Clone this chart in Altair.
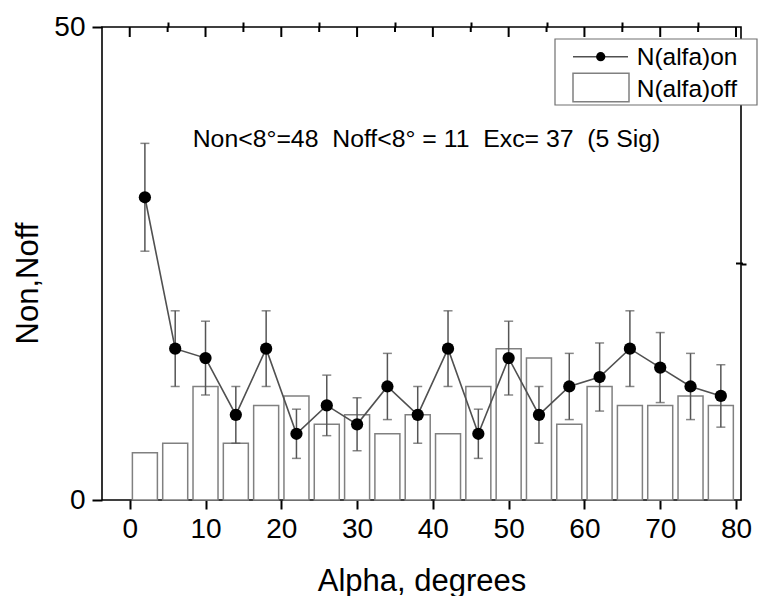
import altair as alt
import pandas as pd

# ---- data ----
alpha = [2, 6, 10, 14, 18, 22, 26, 30, 34, 38, 42, 46, 50, 54, 58, 62, 66, 70, 74, 78]
n_on = [32, 16, 15, 9, 16, 7, 10, 8, 12, 9, 16, 7, 15, 9, 12, 13, 16, 14, 12, 11]
n_on_err = [5.7, 4.0, 3.9, 3.0, 4.0, 2.6, 3.2, 2.8, 3.5, 3.0, 4.0, 2.6, 3.9, 3.0, 3.5, 3.6, 4.0, 3.7, 3.5, 3.3]
n_off = [5, 6, 12, 6, 10, 11, 8, 9, 7, 9, 7, 12, 16, 15, 8, 12, 10, 10, 11, 10]

x_major = [0, 10, 20, 30, 40, 50, 60, 70, 80]
x_minor = [5, 15, 25, 35, 45, 55, 65, 75]
y_major = [0, 50]
y_minor = [25]

annotation = "Non<8°=48\u00a0\u00a0Noff<8° = 11\u00a0\u00a0Exc= 37\u00a0\u00a0(5 Sig)"
legend_on = "N(alfa)on"
legend_off = "N(alfa)off"
x_title = "Alpha, degrees"
y_title = "Non,Noff"

df = pd.DataFrame({"alpha": alpha, "on": n_on, "err": n_on_err, "off": n_off})
df["lo"] = df["on"] - df["err"]
df["hi"] = df["on"] + df["err"]
one = pd.DataFrame({"a": [0]})
y_top = y_major[-1]
df_xmaj = pd.DataFrame({"tx": x_major, "ty": [y_top] * len(x_major)})
df_xmin = pd.DataFrame({"tx": x_minor, "ty": [y_top] * len(x_minor)})
df_ymin = pd.DataFrame({"ty": y_minor})

W, H = 639, 473
FONT = "Liberation Sans"
xs = alt.Scale(domain=[-3, 80], nice=False, zero=False)
ys = alt.Scale(domain=[0, 50], nice=False)

axis_common = dict(domain=False, ticks=True, tickColor="black", tickWidth=2,
                   labelFont=FONT, labelColor="black", grid=False)

# main bottom / left axes
ax_main = alt.Chart(df).mark_point(opacity=0).encode(
    x=alt.X("alpha:Q", scale=xs, axis=alt.Axis(
        values=x_major, tickSize=9, labelFontSize=28, labelPadding=6,
        title=x_title, titleFont=FONT, titleFontSize=31, titleFontWeight="normal",
        titleColor="black", titleX=W / 2, titleY=90, titleBaseline="alphabetic",
        titleAlign="center", titleAnchor="middle", **axis_common)),
    y=alt.Y("on:Q", scale=ys, axis=alt.Axis(
        values=y_major, tickSize=10, labelFontSize=28, labelPadding=7,
        title=y_title, titleFont=FONT, titleFontSize=31, titleFontWeight="normal",
        titleColor="black", titleX=-65, titleY=256, titleAngle=270,
        titleBaseline="alphabetic", titleAlign="center", **axis_common)),
)
# minor bottom / left ticks
ax_minor = alt.Chart(df).mark_point(opacity=0).encode(
    x=alt.X("alpha:Q", scale=xs, axis=alt.Axis(values=x_minor, tickSize=5, labels=False,
                                                title=None, **axis_common)),
    y=alt.Y("on:Q", scale=ys, axis=alt.Axis(values=y_minor, tickSize=5, labels=False,
                                             title=None, **axis_common)),
)

X = alt.X("alpha:Q", scale=xs, axis=None)

# inward ticks on the top edge and on the right edge
top_major = alt.Chart(df_xmaj).mark_tick(orient="vertical", size=10, thickness=2,
                                         color="black", opacity=1, yOffset=5).encode(
    x=alt.X("tx:Q", scale=xs, axis=None), y=alt.Y("ty:Q", scale=ys, axis=None))
top_minor = alt.Chart(df_xmin).mark_tick(orient="vertical", size=5, thickness=2,
                                         color="black", opacity=1, yOffset=2.5).encode(
    x=alt.X("tx:Q", scale=xs, axis=None), y=alt.Y("ty:Q", scale=ys, axis=None))
right_minor = alt.Chart(df_ymin).mark_rule(color="black", strokeWidth=2).encode(
    y=alt.Y("ty:Q", scale=ys, axis=None), y2=alt.Y2("ty:Q"),
    x=alt.value(W - 5), x2=alt.value(W + 2))

bars = alt.Chart(df).mark_bar(size=25, fill="white", stroke="#808080", strokeWidth=1.5).encode(
    x=X, y=alt.Y("off:Q", scale=ys, axis=None))

err_rule = alt.Chart(df).mark_rule(color="#555555", strokeWidth=1.5).encode(
    x=X, y=alt.Y("lo:Q", scale=ys, axis=None), y2="hi:Q")
cap_lo = alt.Chart(df).mark_tick(orient="horizontal", size=9, thickness=1.5, color="#555555").encode(
    x=X, y=alt.Y("lo:Q", scale=ys, axis=None))
cap_hi = alt.Chart(df).mark_tick(orient="horizontal", size=9, thickness=1.5, color="#555555").encode(
    x=X, y=alt.Y("hi:Q", scale=ys, axis=None))

line = alt.Chart(df).mark_line(color="#505050", strokeWidth=1.6).encode(
    x=X, y=alt.Y("on:Q", scale=ys, axis=None))
points = alt.Chart(df).mark_point(filled=True, size=150, color="black", opacity=1).encode(
    x=X, y=alt.Y("on:Q", scale=ys, axis=None))

ann = alt.Chart(one).mark_text(text=annotation, font=FONT, fontSize=24.8, align="left",
                               baseline="alphabetic", color="black").encode(
    x=alt.value(90.7), y=alt.value(119.7))

# legend (drawn by hand)
leg_box = alt.Chart(one).mark_rect(fill="white", stroke="#707070", strokeWidth=1.2).encode(
    x=alt.value(453), x2=alt.value(655), y=alt.value(12), y2=alt.value(78))
leg_line = alt.Chart(one).mark_rule(color="#505050", strokeWidth=1.5).encode(
    x=alt.value(471), x2=alt.value(526), y=alt.value(29.7))
leg_dot = alt.Chart(one).mark_point(filled=True, size=85, color="black", opacity=1).encode(
    x=alt.value(498.7), y=alt.value(29.7))
leg_rect = alt.Chart(one).mark_rect(fill="white", stroke="#808080", strokeWidth=1.5).encode(
    x=alt.value(471), x2=alt.value(527), y=alt.value(46.3), y2=alt.value(74.7))
leg_t1 = alt.Chart(one).mark_text(text=legend_on, font=FONT, fontSize=24.5, align="left",
                                  baseline="alphabetic", color="black").encode(
    x=alt.value(534.7), y=alt.value(38))
leg_t2 = alt.Chart(one).mark_text(text=legend_off, font=FONT, fontSize=24.5, align="left",
                                  baseline="alphabetic", color="black").encode(
    x=alt.value(534.7), y=alt.value(69.7))

chart = alt.layer(
    ax_main, ax_minor,
    bars, err_rule, cap_lo, cap_hi, line, points, ann,
    top_major, top_minor, right_minor,
    leg_box, leg_line, leg_dot, leg_rect, leg_t1, leg_t2,
).resolve_axis(x="independent", y="independent").properties(
    width=W, height=H,
    autosize=alt.AutoSizeParams(type="none"),
    padding={"left": 102, "top": 27, "right": 18, "bottom": 96},
    background="white",
).configure_view(stroke="black", strokeWidth=1.6)

chart.save("out.html", embed_options={"renderer": "svg", "actions": False})
